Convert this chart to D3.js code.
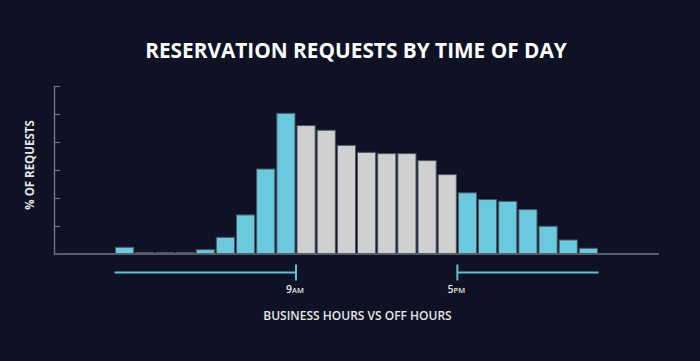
<!DOCTYPE html>
<html>
<head>
<meta charset="utf-8">
<script src="https://cdn.jsdelivr.net/npm/d3@7"></script>
<style>
  html, body { margin: 0; padding: 0; background: #0e1224; }
  svg { display: block; font-family: "Open Sans", "DejaVu Sans", sans-serif; }
</style>
</head>
<body>
<svg width="700" height="361"></svg>
<script>
// share of requests per hour of day (%)
const hours = d3.range(24);
const requests = [0.48, 0.1, 0.1, 0.1, 0.31, 1.19, 2.79, 6.07, 10.05, 9.17, 8.84, 7.76,
  7.26, 7.17, 7.17, 6.67, 5.67, 4.37, 3.89, 3.76, 3.17, 1.98, 1.0, 0.41];
const businessStart = 9, businessEnd = 17;
const yTicks = [0, 2, 4, 6, 8, 10, 12];
const markers = [{ hour: 9, num: "9", suffix: "AM" }, { hour: 17, num: "5", suffix: "PM" }];

const svg = d3.select("svg"),
  width = +svg.attr("width"),
  height = +svg.attr("height");

const blue = "#6bc9de", grey = "#d0d0d0";

// x in hour units, with three empty slots each side
const x = d3.scaleLinear().domain([-3, 27]).range([54, 659]);
const y = d3.scaleLinear().domain([0, 12]).range([254, 86]);

// title
svg.append("text")
  .attr("x", 356).attr("y", 57.5)
  .attr("text-anchor", "middle")
  .attr("fill", "#ffffff")
  .attr("font-size", "20.8px")
  .attr("font-weight", 700)
  .text("RESERVATION REQUESTS BY TIME OF DAY");

// y axis, no labels
const yAxis = d3.axisLeft(y).tickValues(yTicks).tickSize(-6).tickFormat("").tickSizeOuter(0);
const gy = svg.append("g")
  .attr("transform", `translate(${x(-3)},0)`)
  .call(yAxis);
gy.select(".domain").attr("stroke", "#6d7180").attr("stroke-width", 1.5);
gy.selectAll(".tick line").attr("stroke", "#6d7180").attr("stroke-width", 1.2);

svg.append("text")
  .attr("transform", `translate(33.5,165) rotate(-90)`)
  .attr("text-anchor", "middle")
  .attr("fill", "#e6e6e6")
  .attr("font-size", "11.5px")
  .attr("font-weight", 700)
  .text("% OF REQUESTS");

// bars
svg.append("g")
  .selectAll("rect")
  .data(hours)
  .enter().append("rect")
  .attr("x", d => x(d) + 1)
  .attr("width", d => x(d + 1) - x(d) - 2)
  .attr("y", d => y(requests[d]))
  .attr("height", d => y(0) - y(requests[d]))
  .attr("fill", d => (d >= businessStart && d < businessEnd) ? grey : blue)
  .attr("stroke", "#4a5566")
  .attr("stroke-width", 1);

// baseline
svg.append("line")
  .attr("x1", x(-3)).attr("x2", x(27))
  .attr("y1", y(0)).attr("y2", y(0))
  .attr("stroke", "#585c68")
  .attr("stroke-width", 2);

// off-hours brackets
const lineY = 272.5;
const br = svg.append("g").attr("stroke", "#5cc0d6").attr("stroke-width", 2).attr("fill", "none");
br.append("line").attr("x1", x(0)).attr("x2", x(businessStart)).attr("y1", lineY).attr("y2", lineY);
br.append("line").attr("x1", x(businessStart)).attr("x2", x(businessStart)).attr("y1", lineY - 8).attr("y2", lineY + 8);
br.append("line").attr("x1", x(businessEnd)).attr("x2", x(24)).attr("y1", lineY).attr("y2", lineY);
br.append("line").attr("x1", x(businessEnd)).attr("x2", x(businessEnd)).attr("y1", lineY - 8).attr("y2", lineY + 8);

const ml = svg.append("g")
  .selectAll("text")
  .data(markers)
  .enter().append("text")
  .attr("x", d => x(d.hour) - 1)
  .attr("y", 293)
  .attr("text-anchor", "middle")
  .attr("fill", "#e6e6e6")
  .attr("font-weight", 600)
  .attr("font-size", "10.5px");
ml.append("tspan").text(d => d.num);
ml.append("tspan").attr("font-size", "7.5px").text(d => d.suffix);

// x title
svg.append("text")
  .attr("x", 357.5).attr("y", 320)
  .attr("text-anchor", "middle")
  .attr("fill", "#e6e6e6")
  .attr("font-size", "12px")
  .attr("font-weight", 600)
  .text("BUSINESS HOURS VS OFF HOURS");
</script>
</body>
</html>
